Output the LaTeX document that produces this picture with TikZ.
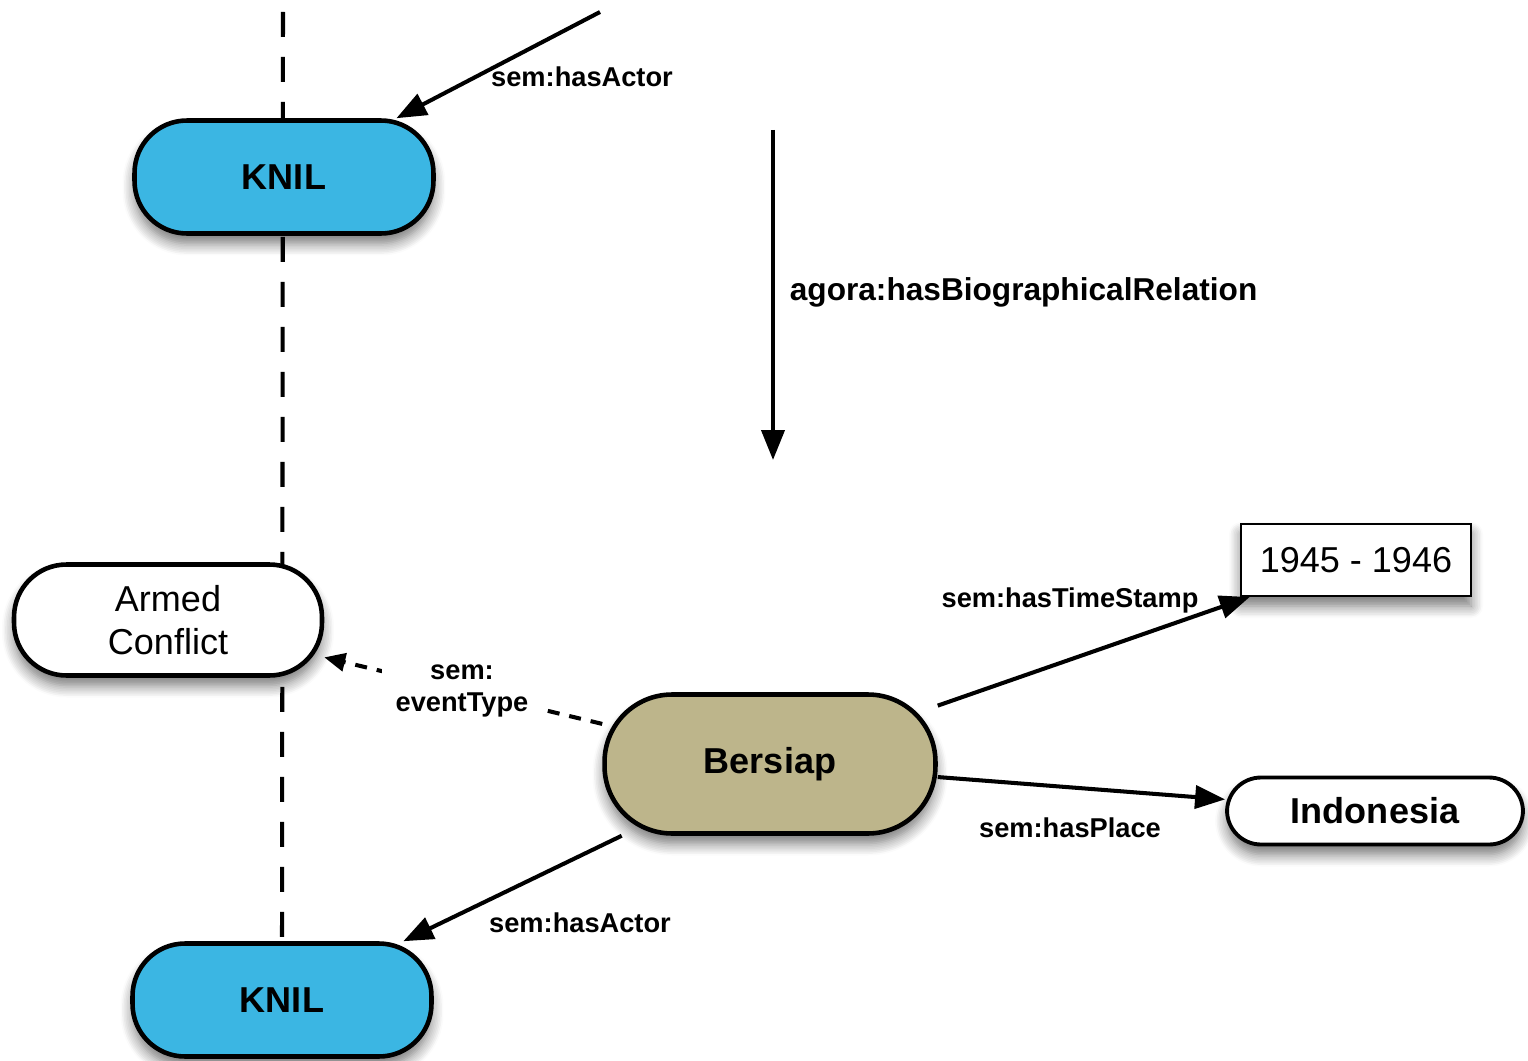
\documentclass[tikz,border=0pt]{standalone}
\usepackage{fontspec}
\setmainfont{Liberation Sans}
\usetikzlibrary{arrows.meta,shadows.blur}

\definecolor{knilblue}{RGB}{59,182,227}
\definecolor{eventkhaki}{RGB}{189,181,139}

\tikzset{
	softshadow/.style={blur shadow={shadow xshift=0pt, shadow yshift=-0.2cm, shadow blur steps=8, shadow blur radius=0.24cm, shadow opacity=55}},
	pill/.style={draw=black, line width=2.6pt, rounded corners=1.05cm, align=center, softshadow,
		font=\fontsize{20.5}{24.5}\selectfont},
	actor/.style={pill, fill=knilblue, minimum width=5.98cm, minimum height=2.26cm, font=\fontsize{20.5}{24.5}\selectfont\bfseries},
	concept/.style={pill, fill=white, minimum width=6.16cm, minimum height=2.22cm},
	event/.style={pill, fill=eventkhaki, rounded corners=1.35cm, minimum width=6.62cm, minimum height=2.78cm, font=\fontsize{20.5}{24.5}\selectfont\bfseries},
	place/.style={pill, fill=white, line width=2.2pt, rounded corners=0.68cm, minimum width=5.92cm, minimum height=1.34cm, font=\fontsize{20.5}{24.5}\selectfont\bfseries},
	stamp/.style={draw=black, fill=white, line width=1.2pt, softshadow, minimum width=4.6cm, minimum height=1.44cm,
		font=\fontsize{20.5}{24.5}\selectfont},
	rel/.style={line width=2.3pt, -{Triangle[length=0.6cm, width=0.46cm]}},
	typerel/.style={line width=2.3pt, dash pattern=on 0.24cm off 0.2cm, -{Triangle[length=0.42cm, width=0.36cm]}},
	lifeline/.style={line width=2.3pt, dash pattern=on 0.5cm off 0.4cm},
	rellabel/.style={font=\fontsize{15.5}{18.5}\selectfont\bfseries, inner sep=2pt},
}

\begin{document}
\begin{tikzpicture}[x=0.02cm, y=-0.02cm]
	\useasboundingbox (0,0) rectangle (1528,1061);

	\coordinate (lifetop) at (283,12);
	\coordinate (actorfrom) at (600,12);
	\coordinate (biotop) at (773,130);
	\coordinate (biobottom) at (773,460);

	\node[actor] (knilB) at (282,1000) {KNIL};

	% lifeline behind the nodes
	\draw[lifeline] (lifetop) -- (knilB.north);

	\node[actor] (knilA) at (284,177) {KNIL};
	\node[concept] (armed) at (168,620) {Armed\\Conflict};
	\node[event] (bersiap) at (770,764) {Bersiap};
	\node[stamp] (period) at (1356,560) {1945 - 1946};
	\node[place] (indonesia) at (1375,811) {Indonesia};

	\draw[rel] (actorfrom) -- (knilA);
	\node[rellabel] (actorlabelA) at (582,77) {sem:hasActor};

	\draw[rel] (biotop) -- (biobottom);
	\node[rellabel, font=\fontsize{18}{21}\selectfont\bfseries, anchor=west] (biolabel) at (786,292) {agora:hasBiographicalRelation};

	\draw[typerel] (bersiap) -- (armed);
	\node[rellabel, fill=white, inner xsep=8pt, align=center] (typelabel) at (462,691) {sem:\\eventType};

	\draw[rel] (bersiap) -- (period);
	\node[rellabel] (timelabel) at (1070,600) {sem:hasTimeStamp};

	\draw[rel] (bersiap) -- (indonesia);
	\node[rellabel] (placelabel) at (1070,828) {sem:hasPlace};

	\draw[rel] (bersiap) -- (knilB);
	\node[rellabel] (actorlabelB) at (580,923) {sem:hasActor};
\end{tikzpicture}
\end{document}
